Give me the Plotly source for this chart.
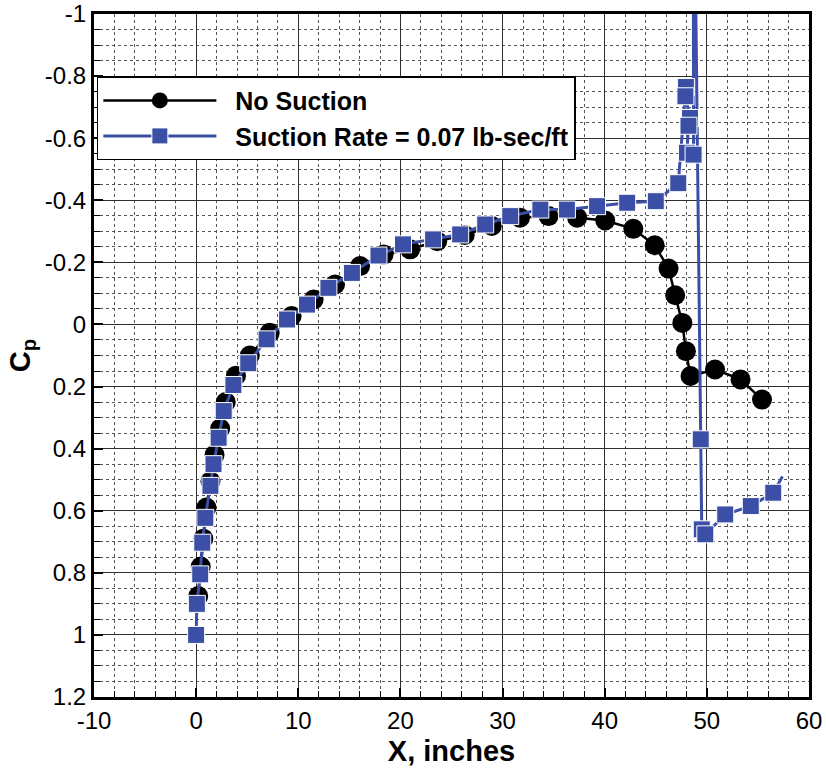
import plotly.graph_objects as go

# Pressure coefficient along the surface, baseline (no suction)
no_suction_x = [0.2, 0.45, 0.7, 1.0, 1.4, 1.8, 2.35, 2.9, 3.9, 5.25, 7.2, 9.35,
                11.5, 13.6, 16.05, 18.35, 20.95, 23.6, 26.3, 28.95, 31.7, 34.5,
                37.3, 40.05, 42.8, 44.9, 46.25, 46.9, 47.6, 47.95, 48.4, 50.8,
                53.3, 55.4]
no_suction_cp = [0.875, 0.78, 0.69, 0.59, 0.505, 0.42, 0.335, 0.25, 0.165, 0.10,
                 0.027, -0.027, -0.08, -0.129, -0.188, -0.225, -0.242, -0.268,
                 -0.288, -0.317, -0.344, -0.349, -0.344, -0.335, -0.308, -0.255,
                 -0.18, -0.094, -0.005, 0.086, 0.166, 0.145, 0.177, 0.242]

# Pressure coefficient with suction applied at the slot (~49 in)
suction_x = [0.0, 0.07, 0.4, 0.6, 0.9, 1.4, 1.7, 2.2, 2.7, 3.65, 5.1, 6.9, 8.9,
             10.85, 12.95, 15.25, 17.85, 20.25, 23.2, 25.85, 28.3, 30.75, 33.7,
             36.3, 39.25, 42.2, 45.0, 47.2, 47.95, 47.9, 48.35, 48.2, 48.05,
             48.7, 48.65, 49.4, 49.5, 49.85, 51.8, 54.3, 56.5, 57.4]
suction_cp = [1.0, 0.90, 0.805, 0.703, 0.623, 0.52, 0.45, 0.365, 0.279, 0.195,
              0.125, 0.048, -0.016, -0.064, -0.118, -0.166, -0.222, -0.258,
              -0.274, -0.290, -0.322, -0.349, -0.37, -0.37, -0.381, -0.392,
              -0.397, -0.455, -0.765, -0.735, -0.665, -0.64, -0.553, -0.547,
              -1.8, 0.37, 0.66, 0.676, 0.612, 0.585, 0.542, 0.49]
# stations drawn as line-only (no symbol)
suction_no_symbol = [34, 41]

x_ticks = [-10, 0, 10, 20, 30, 40, 50, 60]
x_tick_text = ["-10", "0", "10", "20", "30", "40", "50", "60"]
y_ticks = [-1, -0.8, -0.6, -0.4, -0.2, 0, 0.2, 0.4, 0.6, 0.8, 1, 1.2]
y_tick_text = ["-1", "-0.8", "-0.6", "-0.4", "-0.2", "0", "0.2", "0.4",
               "0.6", "0.8", "1", "1.2"]

BLUE = "#3B4FA6"
FONT = "Liberation Sans, Arial, Helvetica, sans-serif"

sq_sizes = [0 if i in suction_no_symbol else 17 for i in range(len(suction_x))]

fig = go.Figure()
fig.add_trace(go.Scatter(
    x=no_suction_x, y=no_suction_cp, mode="lines+markers",
    name="&nbsp;&nbsp;<b>No Suction</b>",
    line=dict(color="black", width=2.5),
    marker=dict(symbol="circle", size=20, color="black", opacity=1),
))
fig.add_trace(go.Scatter(
    x=suction_x, y=suction_cp, mode="lines+markers",
    name="&nbsp;&nbsp;<b>Suction Rate = 0.07 lb-sec/ft</b>",
    line=dict(color=BLUE, width=3),
    marker=dict(symbol="square", size=sq_sizes, color=BLUE, opacity=1),
))

axis_common = dict(
    showline=True, linecolor="black", linewidth=3, mirror=True,
    ticks="inside", ticklen=9, tickwidth=2, tickcolor="black",
    showgrid=True, gridcolor="#2e2e2e", gridwidth=1.3,
    zeroline=False, automargin=False,
    tickfont=dict(family=FONT, size=24, color="black"),
)

fig.update_xaxes(
    range=[-10, 60], tickvals=x_ticks, ticktext=x_tick_text,
    title=dict(text="<b>X, inches</b>", font=dict(family=FONT, size=29, color="black"),
               standoff=8),
    minor=dict(dtick=2, tick0=0, ticks="inside", ticklen=6, tickwidth=1,
               tickcolor="black", showgrid=True, gridcolor="#555555",
               griddash="dot", gridwidth=1),
    **axis_common,
)
fig.update_yaxes(
    range=[1.2, -1], tickvals=y_ticks, ticktext=y_tick_text,
    title=dict(text="<b>C<sub>p</sub></b>", font=dict(family=FONT, size=29, color="black"),
               standoff=6),
    minor=dict(dtick=0.05, tick0=0, ticks="inside", ticklen=6, tickwidth=1,
               tickcolor="black", showgrid=True, gridcolor="#555555",
               griddash="dot", gridwidth=1),
    **axis_common,
)

fig.update_layout(
    width=826, height=775,
    margin=dict(l=94, r=17, t=14, b=78, autoexpand=False),
    paper_bgcolor="white", plot_bgcolor="white",
    font=dict(family=FONT, color="black"),
    legend=dict(
        x=0.004, y=0.909, xanchor="left", yanchor="top",
        bgcolor="white", bordercolor="black", borderwidth=1.5,
        font=dict(family=FONT, size=25, color="black"),
        itemwidth=113, itemsizing="trace",
        tracegroupgap=0,
    ),
    showlegend=True,
)

fig.write_html("out.html")
